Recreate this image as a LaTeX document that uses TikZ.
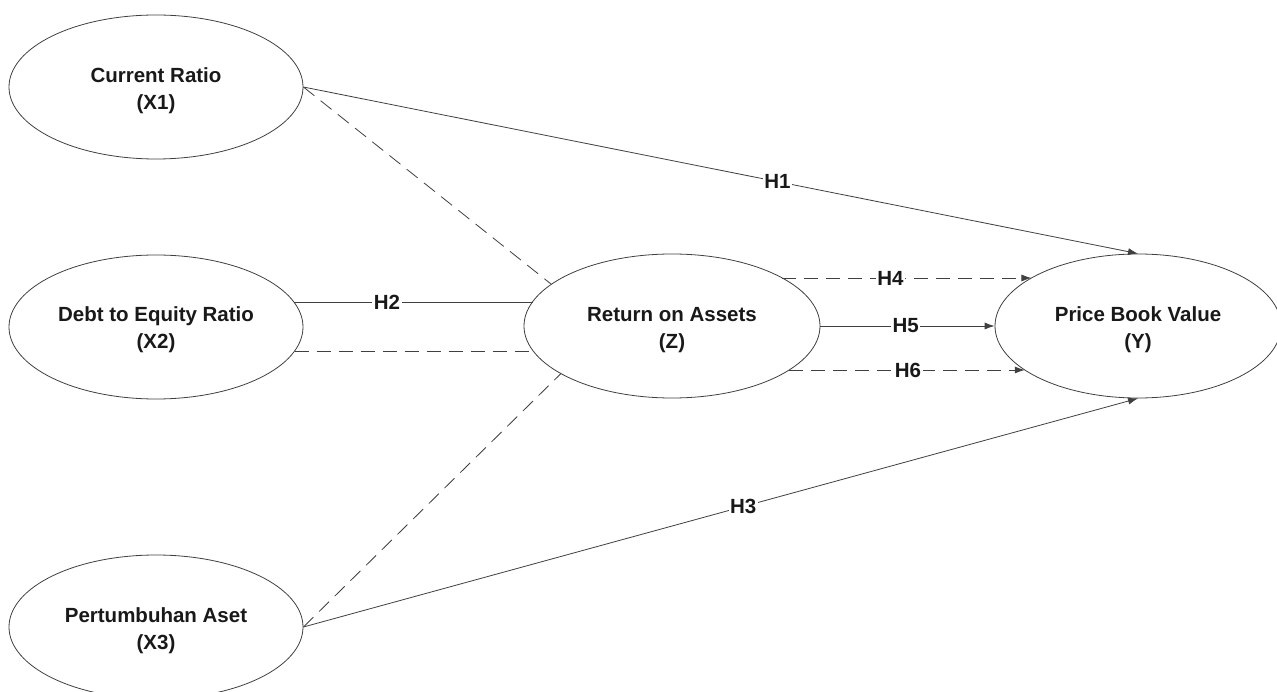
\documentclass[tikz,border=0pt]{standalone}
\usepackage{fontspec}
\setmainfont{Liberation Sans}
\usetikzlibrary{shapes.geometric,arrows.meta}
\begin{document}
\begin{tikzpicture}[x=1pt,y=-1pt,
  var/.style={ellipse,draw=black!75,line width=0.8pt,minimum width=294pt,minimum height=144pt,inner sep=0pt},
  vtext/.style={align=center,inner sep=0pt,yshift=-4pt,text=black!90,font=\fontsize{20.5}{27}\selectfont\bfseries},
  link/.style={draw=black!75,line width=0.8pt},
  arr/.style={link,-{Latex[length=10pt,width=7pt]}},
  dsh/.style={dash pattern=on 14pt off 8pt},
  lbl/.style={fill=white,inner sep=1.5pt,text=black!90,font=\fontsize{20.5}{24}\selectfont\bfseries}]
\clip (0,0) rectangle (1277,692);
\fill[white] (0,0) rectangle (1277,692);
\node[var,label={[vtext]center:Current Ratio\\(X1)}] (X1) at (156,87) {};
\node[var,label={[vtext,yshift=1pt]center:Debt to Equity Ratio\\(X2)}] (X2) at (156,327) {};
\node[var,label={[vtext]center:Pertumbuhan Aset\\(X3)}] (X3) at (156,627) {};
\node[var,minimum width=296pt,label={[vtext]center:Return on Assets\\(Z)}] (Z) at (672,326) {};
\node[var,minimum width=286pt,label={[vtext]center:Price Book Value\\(Y)}] (Y) at (1138,326) {};
% border points
\coordinate (x2a) at ([shift={(137.9,-25)}]X2.center);
\coordinate (x2b) at ([shift={(138.6,24)}]X2.center);
\coordinate (za) at ([shift={(-139.5,-24)}]Z.center);
\coordinate (zb) at ([shift={(-138.8,25)}]Z.center);
\coordinate (zc) at ([shift={(-121,-42)}]Z.center);
\coordinate (zd) at ([shift={(-111,47.5)}]Z.center);
\coordinate (ze) at ([shift={(110.3,-48)}]Z.center);
\coordinate (zf) at ([shift={(117.1,44)}]Z.center);
\coordinate (ya) at ([shift={(-106.6,-48)}]Y.center);
\coordinate (yb) at ([shift={(-113.2,44)}]Y.center);
% H1, H3
\draw[arr] (X1.east) -- node[lbl,pos=0.568] (h1) {H1} (Y.north);
\draw[arr] (X3.east) -- node[lbl,pos=0.527] (h3) {H3} (Y.south);
% dashed to Z
\draw[link,dsh] (X1.east) -- (zc);
\draw[link,dsh] (X3.east) -- (zd);
% H2
\draw[link] (x2a) -- node[lbl,pos=0.39] (h2) {H2} (za);
\draw[link,dsh] (x2b) -- (zb);
% Z to Y
\draw[arr,dsh] (ze) -- node[lbl,pos=0.434] (h4) {H4} (ya);
\draw[arr] (Z.east) -- node[lbl,pos=0.49] (h5) {H5} (Y.west);
\draw[arr,dsh] (zf) -- node[lbl,pos=0.504] (h6) {H6} (yb);
\end{tikzpicture}
\end{document}
